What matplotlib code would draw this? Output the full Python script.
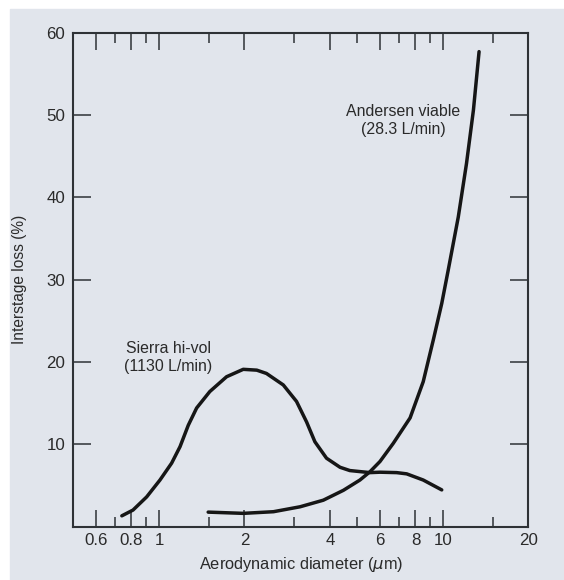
import numpy as np
import matplotlib
matplotlib.use("Agg")
import matplotlib.pyplot as plt
from matplotlib.ticker import FixedLocator, NullFormatter

# Sierra hi-vol (1130 L/min)
sierra_d = [0.74, 0.81, 0.905, 1.008, 1.108, 1.186, 1.268, 1.357, 1.51, 1.73,
            1.98, 2.21, 2.39, 2.74, 3.05, 3.31, 3.54, 3.89, 4.34, 4.7, 5.53,
            6.0, 6.87, 7.45, 8.52, 9.9]
sierra_loss = [1.3, 2.0, 3.6, 5.65, 7.7, 9.7, 12.3, 14.4, 16.4, 18.2,
               19.1, 19.0, 18.6, 17.2, 15.2, 12.7, 10.3, 8.3, 7.2, 6.8, 6.55,
               6.6, 6.55, 6.4, 5.65, 4.45]

# Andersen viable (28.3 L/min)
andersen_d = [1.49, 1.98, 2.53, 3.14, 3.79, 4.46, 5.1, 5.53, 6.0, 6.68,
              7.66, 8.52, 9.25, 9.9, 10.44, 11.32, 12.1, 12.8, 13.4]
andersen_loss = [1.75, 1.6, 1.8, 2.4, 3.2, 4.4, 5.65, 6.65, 7.9, 10.1,
                 13.2, 17.6, 22.7, 27.1, 31.2, 37.6, 44.1, 50.6, 57.7]

x_major = [0.6, 0.8, 1, 2, 4, 6, 8, 10, 20]
x_major_labels = ["0.6", "0.8", "1", "2", "4", "6", "8", "10", "20"]
x_minor = [0.7, 0.9, 1.5, 3, 5, 7, 9, 15]
y_major = [0, 10, 20, 30, 40, 50, 60]
y_major_labels = ["", "10", "20", "30", "40", "50", "60"]

paper = "#e1e5ec"
ink = "#161616"
frame = "#2e3236"
text_c = "#2a2a2a"

plt.rcParams['font.family'] = ['Liberation Sans', 'DejaVu Sans']

fig = plt.figure(figsize=(5.64, 5.80), dpi=100, facecolor="white")
# scanned page area (white strip left and top)
fig.patches.append(plt.Rectangle((10 / 564, 0), 1, 1 - 9 / 580,
                                 transform=fig.transFigure, color=paper, zorder=-10))

ax = fig.add_axes([0.1303, 0.0922, 0.8067, 0.8514])
ax.set_facecolor(paper)
ax.set_xscale("log")
ax.set_xlim(0.5, 20)
ax.set_ylim(0, 60)

ax.plot(sierra_d, sierra_loss, color=ink, lw=2.5, solid_capstyle="round",
        solid_joinstyle="round")
ax.plot(andersen_d, andersen_loss, color=ink, lw=2.5, solid_capstyle="round",
        solid_joinstyle="round")

ax.xaxis.set_major_locator(FixedLocator(x_major))
ax.set_xticklabels(x_major_labels)
ax.xaxis.set_minor_locator(FixedLocator(x_minor))
ax.xaxis.set_minor_formatter(NullFormatter())
ax.set_yticks(y_major)
ax.set_yticklabels(y_major_labels)

ax.tick_params(axis="x", which="major", direction="in", length=12.5, width=1.1,
               top=True, bottom=True, colors=frame, labelcolor=text_c,
               labelsize=12.2, pad=5)
ax.tick_params(axis="x", which="minor", direction="in", length=7, width=1.1,
               top=True, bottom=True, colors=frame)
ax.tick_params(axis="y", which="major", direction="in", length=13, width=1.1,
               left=True, right=True, colors=frame, labelcolor=text_c,
               labelsize=12.2, pad=6)

for s in ax.spines.values():
    s.set_color(frame)
    s.set_linewidth(1.5)

ax.set_xlabel("Aerodynamic diameter ($\\mu$m)", fontsize=11.8, color=text_c, labelpad=5)
ax.set_ylabel("Interstage loss (%)", fontsize=11.2, color=text_c)
ax.yaxis.set_label_coords(-0.103, 0.5)

ax.text(1.076, 20.5, "Sierra hi-vol\n(1130 L/min)", ha="center", va="center",
        fontsize=11.4, color=text_c, linespacing=1.25)
ax.text(7.23, 49.3, "Andersen viable\n(28.3 L/min)", ha="center", va="center",
        fontsize=11.4, color=text_c, linespacing=1.25)

fig.savefig("out.png", dpi=100, facecolor=fig.get_facecolor())
